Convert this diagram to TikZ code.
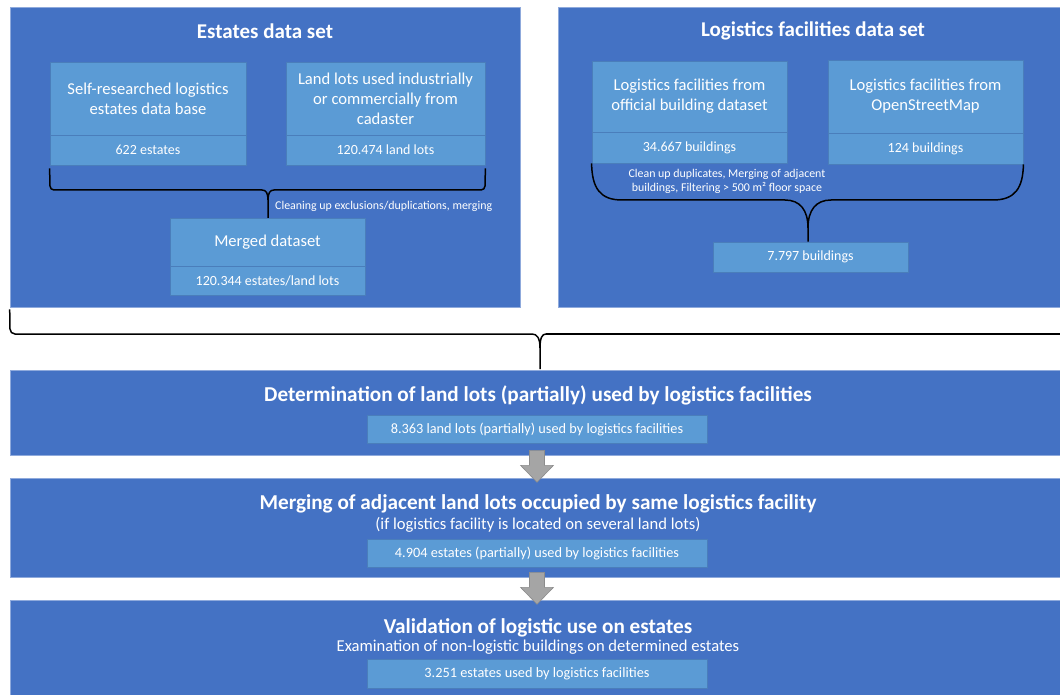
\documentclass[tikz,border=0pt]{standalone}
\usepackage{fontspec}
\setmainfont{Carlito}
\usetikzlibrary{calc}
\definecolor{dblue}{HTML}{4472C4}
\definecolor{lblue}{HTML}{5B9BD5}
\definecolor{lborder}{HTML}{4A7EBB}
\definecolor{pborder}{HTML}{8FAADC}
\definecolor{agray}{HTML}{A5A5A5}
\definecolor{aborder}{HTML}{8C8C8C}
\tikzset{
  panel/.style={fill=dblue, draw=pborder, line width=0.6pt, inner sep=0pt},
  lbox/.style={fill=lblue, draw=lborder, line width=0.8pt, text=white, align=center, inner sep=0pt,
    font=\fontsize{16.6}{20}\selectfont},
  nbox/.style={lbox, font=\fontsize{14}{17}\selectfont},
  sbox/.style={lbox, font=\fontsize{14.3}{17}\selectfont},
  ptitle/.style={text=white, font=\fontsize{21}{25}\selectfont\bfseries, inner sep=0pt},
  btitle/.style={text=white, font=\fontsize{21.2}{25}\selectfont\bfseries, inner sep=0pt},
  bsub/.style={text=white, font=\fontsize{16.6}{20}\selectfont, inner sep=0pt},
  capt/.style={text=white, font=\fontsize{11.9}{14}\selectfont, inner sep=0pt, align=center},
  brace/.style={draw=black, line width=1.5pt},
  garrow/.style={fill=agray, draw=aborder, line width=0.6pt},
}
\newcommand\blockarrowat[1]{%
  \begin{scope}[shift={(#1)}]
    \draw[garrow] (-7.5,-5) -- (7.5,-5) -- (7.5,10) -- (16.5,10) -- (0,27) -- (-16.5,10) -- (-7.5,10) -- cycle;
  \end{scope}}
\begin{document}
\begin{tikzpicture}[x=1pt,y=-1pt]
\useasboundingbox (0,0) rectangle (1060,695);
\fill[white] (0,0) rectangle (1060,695);

% ---------- left panel ----------
\node[panel, minimum width=510, minimum height=300] (lp) at (265,157) {};
\node[ptitle] (lt) at (265,31) {Estates data set};
\node[lbox, minimum width=196, minimum height=73] (s1) at (148,98.5) {Self-researched logistics\\estates data base};
\node[nbox, minimum width=196, minimum height=30] (s1n) at (148,150) {622 estates};
\node[lbox, minimum width=199, minimum height=73] (s2) at (385.5,98.5) {Land lots used industrially\\or commercially from\\cadaster};
\node[nbox, minimum width=199, minimum height=30] (s2n) at (385.5,150) {120.474 land lots};
\node[lbox, minimum width=195, minimum height=48] (m) at (267.5,242) {Merged dataset};
\node[nbox, minimum width=195, minimum height=29] (mn) at (267.5,280.5) {120.344 estates/land lots};
\node[capt, anchor=west] (c1) at (275,206) {Cleaning up exclusions/duplications, merging};

\coordinate (lbL) at ([yshift=-3pt]s1n.south west);
\coordinate (lbR) at ([yshift=-3pt]s2n.south east);
\draw[brace] (lbL) -- (50,186) to[out=-90,in=180] (54,190) -- (262,190)
  .. controls (266,190) and (268,193) .. (268,200) -- (268,218);
\draw[brace] (lbR) -- (485,186) to[out=-90,in=0] (481,190) -- (274,190)
  .. controls (270,190) and (268,193) .. (268,200);

% ---------- right panel ----------
\node[panel, minimum width=506, minimum height=300] (rp) at (811,157) {};
\node[ptitle] (rt) at (813,31) {Logistics facilities data set};
\node[lbox, minimum width=195, minimum height=71] (r1) at (689.5,96.5) {Logistics facilities from\\official building dataset};
\node[nbox, minimum width=195, minimum height=31] (r1n) at (689.5,147.5) {34.667 buildings};
\node[lbox, minimum width=195, minimum height=73] (r2) at (925.5,96.5) {Logistics facilities from\\OpenStreetMap};
\node[nbox, minimum width=195, minimum height=31] (r2n) at (925.5,148.5) {124 buildings};
\node[nbox, minimum width=195, minimum height=30] (b7) at (810.5,257) {7.797 buildings};
\node[capt] (c2) at (727,181.5) {Clean up duplicates, Merging of adjacent\\buildings, Filtering > 500 m² floor space};

\draw[brace] (r1n.south west) .. controls (592,188) and (600,200) .. (622,200) -- (785,200)
  .. controls (800,200) and (808,210) .. (808,228) -- (b7.north -| 808,0);
\draw[brace] (r2n.south east) .. controls (1023,188) and (1015,200) .. (993,200) -- (831,200)
  .. controls (816,200) and (808,210) .. (808,228);

% ---------- big brace ----------
\coordinate (bbL) at ([yshift=-2pt]lp.south west);
\draw[brace] (bbL) -- (10,329) to[out=-90,in=180] (15,334) -- (532,334)
  .. controls (537,334) and (540,338) .. (540,348) -- (540,369);
\draw[brace] (546,334) .. controls (542,334) and (540,338) .. (540,348);
\draw[brace] (546,334) -- (1060,334);

% ---------- bottom boxes ----------
\node[panel, minimum width=1054, minimum height=85] (A) at (537,412.5) {};
\node[btitle] (At) at (538,395) {Determination of land lots (partially) used by logistics facilities};
\node[sbox, minimum width=340, minimum height=28] (An) at (537,429) {8.363 land lots (partially) used by logistics facilities};

\node[panel, minimum width=1054, minimum height=99] (B) at (537,527.5) {};
\node[btitle] (Bt) at (538,503.5) {Merging of adjacent land lots occupied by same logistics facility};
\node[bsub] (Bs) at (538,525) {(if logistics facility is located on several land lots)};
\node[sbox, minimum width=340, minimum height=28] (Bn) at (537,553) {4.904 estates (partially) used by logistics facilities};

\node[panel, minimum width=1054, minimum height=100] (C) at (537,650) {};
\node[btitle] (Ct) at (538,627.5) {Validation of logistic use on estates};
\node[bsub] (Cs) at (538,647) {Examination of non-logistic buildings on determined estates};
\node[sbox, minimum width=340, minimum height=29] (Cn) at (537,673.5) {3.251 estates used by logistics facilities};

\blockarrowat{A.south}
\blockarrowat{B.south}
\end{tikzpicture}
\end{document}
